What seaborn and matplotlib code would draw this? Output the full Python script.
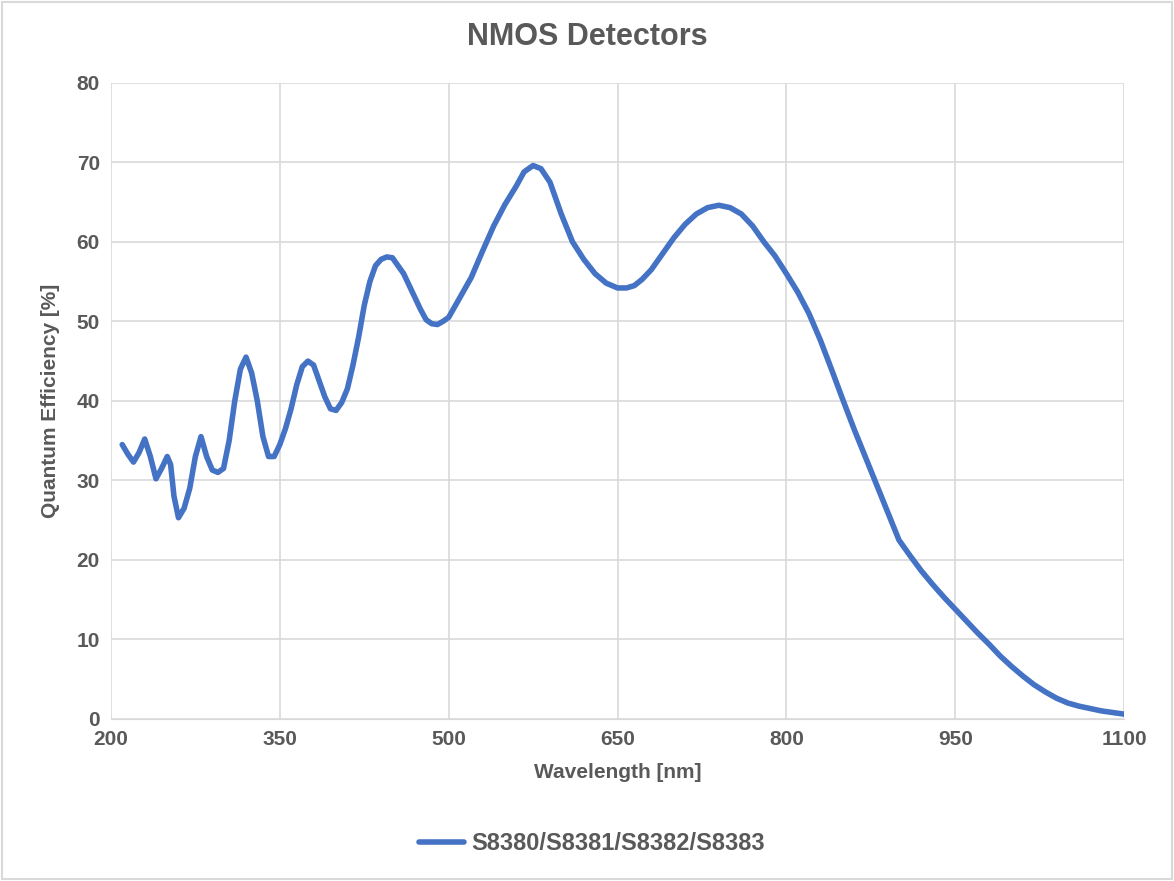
import matplotlib
matplotlib.use("Agg")
import matplotlib.pyplot as plt
import seaborn as sns
import pandas as pd

wavelength = [210,215,220,225,230,235,240,245,250,253,256,260,265,270,275,280,285,290,295,300,
              305,310,315,320,325,330,335,340,345,350,355,360,365,370,375,380,385,390,395,400,
              405,410,415,420,425,430,435,440,445,450,455,460,465,470,475,480,485,490,495,500,
              510,520,530,540,550,560,567,575,582,590,600,610,620,630,640,650,658,665,672,680,
              690,700,710,720,730,740,750,760,770,780,790,800,810,820,830,840,850,860,870,880,
              890,900,910,920,930,940,950,960,970,980,990,1000,1010,1020,1030,1040,1050,1060,1070,1080,1090,1100]
qe = [34.5,33.3,32.3,33.5,35.2,33.0,30.2,31.5,33.0,32.0,28.0,25.3,26.5,29.0,33.0,35.5,33.0,31.3,31.0,31.5,
      35.0,40.0,44.0,45.5,43.5,40.0,35.5,33.0,33.0,34.5,36.5,39.0,42.0,44.3,45.0,44.5,42.5,40.5,39.0,38.8,
      39.8,41.5,44.5,48.0,52.0,55.0,57.0,57.8,58.1,58.0,57.0,56.0,54.5,53.0,51.5,50.2,49.7,49.6,50.0,50.5,
      53.0,55.5,58.8,62.0,64.7,67.0,68.8,69.6,69.2,67.5,63.5,60.0,57.8,56.0,54.8,54.2,54.2,54.5,55.3,56.5,
      58.5,60.5,62.2,63.5,64.3,64.6,64.3,63.5,62.0,60.0,58.2,56.0,53.7,51.0,47.7,44.0,40.2,36.5,33.0,29.5,
      26.0,22.5,20.5,18.6,16.9,15.3,13.8,12.3,10.8,9.4,7.9,6.6,5.4,4.3,3.4,2.6,2.0,1.6,1.3,1.0,0.8,0.6]
series_name = "S8380/S8381/S8382/S8383"
xticks = [200,350,500,650,800,950,1100]
yticks = [0,10,20,30,40,50,60,70,80]

df = pd.DataFrame({"Wavelength": wavelength, "QE": qe, "Series": series_name})
plt.rcParams["font.family"] = "Liberation Sans"
gray = "#595959"

fig = plt.figure(figsize=(11.74, 8.81), dpi=100)
ax = fig.add_axes([0.0945, 0.184, 0.863, 0.722])
sns.lineplot(data=df, x="Wavelength", y="QE", hue="Series", palette=["#4472c4"], linewidth=4, ax=ax)
for ln in ax.get_lines():
    ln.set_solid_joinstyle("round"); ln.set_solid_capstyle("round")
ax.set_xlim(200, 1100); ax.set_ylim(0, 80)
ax.set_xticks(xticks); ax.set_yticks(yticks)
ax.grid(True, color="#d9d9d9", linewidth=1.2)
ax.set_axisbelow(True)
for s in ["top", "right", "left"]:
    ax.spines[s].set_visible(False)
ax.spines["bottom"].set_color("#d9d9d9")
ax.tick_params(length=0, labelsize=15, colors=gray, pad=8)
for lab in ax.get_xticklabels() + ax.get_yticklabels():
    lab.set_fontweight("bold")
ax.set_xlabel("Wavelength [nm]", fontsize=15, fontweight="bold", color=gray, labelpad=10)
ax.set_ylabel("Quantum Efficiency [%]", fontsize=15, fontweight="bold", color=gray, labelpad=12)
fig.suptitle("NMOS Detectors", y=0.975, fontsize=22, fontweight="bold", color=gray)
ax.legend(loc="upper center", bbox_to_anchor=(0.475, -0.145), frameon=False,
          prop={"size": 17, "weight": "bold"}, labelcolor=gray, handlelength=1.9, handletextpad=0.3)
fig.patches.append(plt.Rectangle((0.002, 0.002), 0.996, 0.996, transform=fig.transFigure,
                                 fill=False, edgecolor="#d9d9d9", linewidth=1.5))
fig.savefig("out.png", dpi=100, facecolor="white")
